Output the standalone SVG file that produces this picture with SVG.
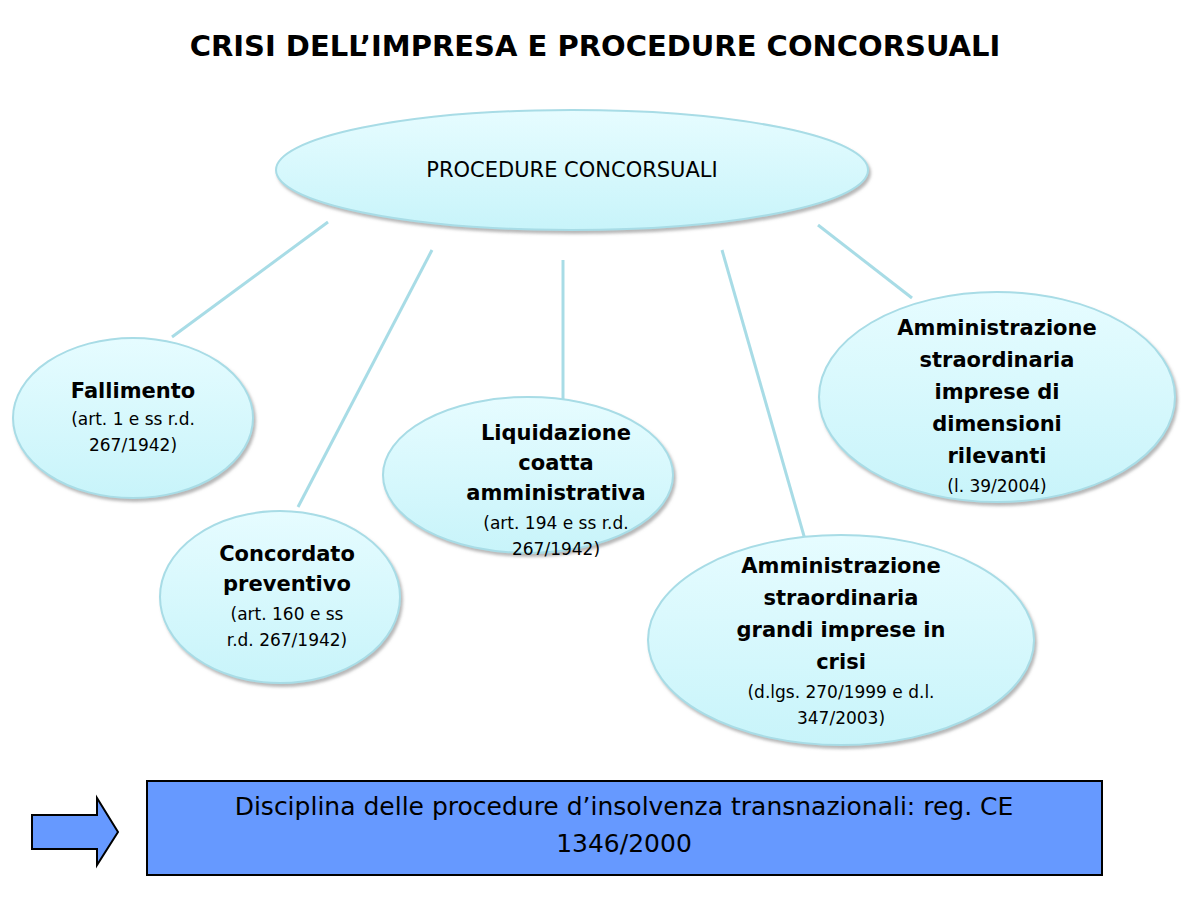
<svg xmlns="http://www.w3.org/2000/svg" width="1200" height="900" viewBox="0 0 1200 900">
<defs>
<linearGradient id="g" x1="0" y1="0" x2="0" y2="1"><stop offset="0" stop-color="#e6fcff"/><stop offset="1" stop-color="#c8f4fa"/></linearGradient>
<filter id="sh" x="-10%" y="-10%" width="125%" height="130%"><feDropShadow dx="2" dy="3" stdDeviation="1.5" flood-color="#888" flood-opacity="0.6"/></filter>
</defs>
<style>
text{font-family:"DejaVu Sans","Liberation Sans",sans-serif;fill:#000;text-anchor:middle}
.n ellipse{fill:url(#g);stroke:#a8dce6;stroke-width:2;filter:url(#sh)}
.b{font-weight:bold;font-size:21px}
.s{font-size:17px}
.c line{stroke:#a8dce6;stroke-width:3}
</style>
<rect width="1200" height="900" fill="#fff"/>
<text x="595" y="56" font-size="29" font-weight="bold">CRISI DELL’IMPRESA E PROCEDURE CONCORSUALI</text>
<g class="c">
<line x1="328" y1="222" x2="172" y2="337"/>
<line x1="432" y1="250" x2="298" y2="507"/>
<line x1="563" y1="260" x2="563" y2="402"/>
<line x1="722" y1="250" x2="806" y2="543"/>
<line x1="818" y1="225" x2="912" y2="298"/>
</g>
<g id="procedure" class="n"><ellipse cx="572" cy="170" rx="296" ry="60"/><text x="572" y="177" font-size="21">PROCEDURE CONCORSUALI</text></g>
<g id="fallimento" class="n"><ellipse cx="133" cy="418" rx="120" ry="80"/>
<text x="133" y="398" class="b">Fallimento</text><text x="133" y="425" class="s">(art. 1 e ss r.d.</text><text x="133" y="451" class="s">267/1942)</text></g>
<g id="concordato" class="n"><ellipse cx="280" cy="597" rx="120" ry="86"/>
<text x="287" y="561" class="b">Concordato</text><text x="287" y="591" class="b">preventivo</text><text x="287" y="620" class="s">(art. 160 e ss</text><text x="287" y="646" class="s">r.d. 267/1942)</text></g>
<g id="liquidazione" class="n"><ellipse cx="528" cy="475" rx="145" ry="78"/>
<text x="556" y="440" class="b">Liquidazione</text><text x="556" y="470" class="b">coatta</text><text x="556" y="500" class="b">amministrativa</text><text x="556" y="529" class="s">(art. 194 e ss r.d.</text><text x="556" y="555" class="s">267/1942)</text></g>
<g id="grandi" class="n"><ellipse cx="841" cy="640" rx="193" ry="105"/>
<text x="841" y="573" class="b">Amministrazione</text><text x="841" y="605" class="b">straordinaria</text><text x="841" y="637" class="b">grandi imprese in</text><text x="841" y="669" class="b">crisi</text><text x="841" y="698" class="s">(d.lgs. 270/1999 e d.l.</text><text x="841" y="724" class="s">347/2003)</text></g>
<g id="rilevanti" class="n"><ellipse cx="997" cy="397" rx="178" ry="105"/>
<text x="997" y="335" class="b">Amministrazione</text><text x="997" y="367" class="b">straordinaria</text><text x="997" y="399" class="b">imprese di</text><text x="997" y="431" class="b">dimensioni</text><text x="997" y="463" class="b">rilevanti</text><text x="997" y="492" class="s">(l. 39/2004)</text></g>
<g id="arrow"><polygon points="32,815 97,815 97,798 118,832 97,865 97,849 32,849" fill="#6699ff" stroke="#000" stroke-width="2"/></g>
<g id="disciplina"><rect x="147" y="781" width="955" height="94" fill="#6699ff" stroke="#000" stroke-width="2"/>
<text x="624" y="815" font-size="25">Disciplina delle procedure d’insolvenza transnazionali: reg. CE</text><text x="624" y="852" font-size="25">1346/2000</text></g>
</svg>
